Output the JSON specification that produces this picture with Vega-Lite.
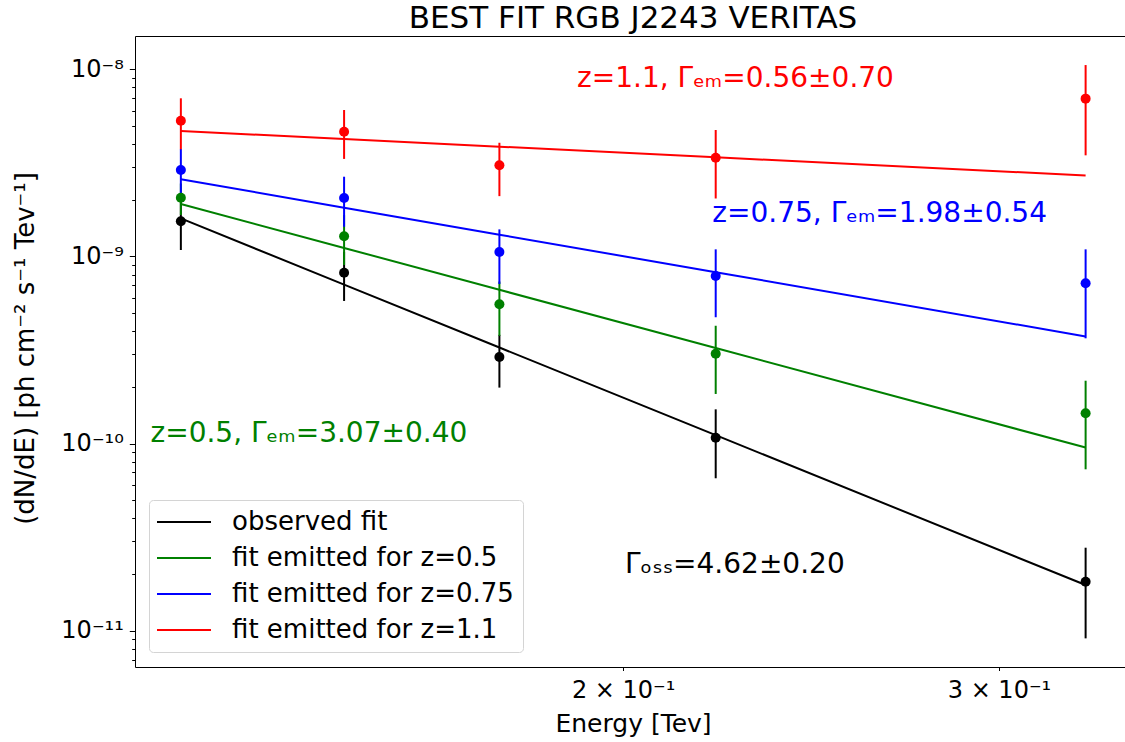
{
  "$schema": "https://vega.github.io/schema/vega-lite/v6.json",
  "autosize": {"type": "none"},
  "padding": {"left": 135, "top": 36, "right": 0, "bottom": 75},
  "width": 990,
  "height": 631,
  "background": "white",
  "title": {
    "text": "BEST FIT RGB J2243 VERITAS",
    "font": "DejaVu Sans",
    "fontSize": 31,
    "fontWeight": "normal",
    "color": "black",
    "baseline": "alphabetic",
    "offset": 8,
    "dx": 3,
    "dy": 31
  },
  "config": {
    "view": {"stroke": null},
    "font": "DejaVu Sans",
    "axis": {
      "grid": false,
      "domainColor": "black",
      "domainWidth": 1,
      "tickColor": "black",
      "tickWidth": 1,
      "labelColor": "black",
      "titleColor": "black",
      "labelFont": "DejaVu Sans",
      "titleFont": "DejaVu Sans",
      "titleFontWeight": "normal",
      "labelOverlap": false,
      "labelFlush": false
    }
  },
  "datasets": {
    "obs": [
      {"series": "observed fit", "energy": 0.1241, "flux": 1.54e-9, "lo": 1.082e-9, "hi": 1.998e-9},
      {"series": "observed fit", "energy": 0.148, "flux": 8.18e-10, "lo": 5.78e-10, "hi": 1.059e-9},
      {"series": "observed fit", "energy": 0.175, "flux": 2.9e-10, "lo": 1.99e-10, "hi": 3.81e-10},
      {"series": "observed fit", "energy": 0.221, "flux": 1.074e-10, "lo": 6.52e-11, "hi": 1.523e-10},
      {"series": "observed fit", "energy": 0.3294, "flux": 1.825e-11, "lo": 9.09e-12, "hi": 2.774e-11},
      {"series": "fit emitted for z=0.5", "energy": 0.1241, "flux": 2.059e-9, "lo": 1.665e-9, "hi": 2.453e-9},
      {"series": "fit emitted for z=0.5", "energy": 0.148, "flux": 1.281e-9, "lo": 9.0e-10, "hi": 1.662e-9},
      {"series": "fit emitted for z=0.5", "energy": 0.175, "flux": 5.55e-10, "lo": 3.76e-10, "hi": 7.34e-10},
      {"series": "fit emitted for z=0.5", "energy": 0.221, "flux": 3.02e-10, "lo": 1.84e-10, "hi": 4.26e-10},
      {"series": "fit emitted for z=0.5", "energy": 0.3294, "flux": 1.45e-10, "lo": 7.28e-11, "hi": 2.166e-10},
      {"series": "fit emitted for z=0.75", "energy": 0.1241, "flux": 2.896e-9, "lo": 2.175e-9, "hi": 3.75e-9},
      {"series": "fit emitted for z=0.75", "energy": 0.148, "flux": 2.051e-9, "lo": 1.441e-9, "hi": 2.667e-9},
      {"series": "fit emitted for z=0.75", "energy": 0.175, "flux": 1.056e-9, "lo": 7.12e-10, "hi": 1.395e-9},
      {"series": "fit emitted for z=0.75", "energy": 0.221, "flux": 7.86e-10, "lo": 4.73e-10, "hi": 1.091e-9},
      {"series": "fit emitted for z=0.75", "energy": 0.3294, "flux": 7.18e-10, "lo": 3.65e-10, "hi": 1.091e-9},
      {"series": "fit emitted for z=1.1", "energy": 0.1241, "flux": 5.31e-9, "lo": 3.74e-9, "hi": 7.0e-9},
      {"series": "fit emitted for z=1.1", "energy": 0.148, "flux": 4.64e-9, "lo": 3.32e-9, "hi": 6.06e-9},
      {"series": "fit emitted for z=1.1", "energy": 0.175, "flux": 3.07e-9, "lo": 2.1e-9, "hi": 4.05e-9},
      {"series": "fit emitted for z=1.1", "energy": 0.221, "flux": 3.37e-9, "lo": 2.04e-9, "hi": 4.74e-9},
      {"series": "fit emitted for z=1.1", "energy": 0.3294, "flux": 6.97e-9, "lo": 3.47e-9, "hi": 1.054e-8}
    ],
    "fit": [
      {"series": "observed fit", "energy": 0.1241, "flux": 1.596e-9},
      {"series": "observed fit", "energy": 0.148, "flux": 7.07e-10},
      {"series": "observed fit", "energy": 0.175, "flux": 3.259e-10},
      {"series": "observed fit", "energy": 0.221, "flux": 1.108e-10},
      {"series": "observed fit", "energy": 0.3294, "flux": 1.753e-11},
      {"series": "fit emitted for z=0.5", "energy": 0.1241, "flux": 1.906e-9},
      {"series": "fit emitted for z=0.5", "energy": 0.148, "flux": 1.11e-9},
      {"series": "fit emitted for z=0.5", "energy": 0.175, "flux": 6.631e-10},
      {"series": "fit emitted for z=0.5", "energy": 0.221, "flux": 3.238e-10},
      {"series": "fit emitted for z=0.5", "energy": 0.3294, "flux": 9.511e-11},
      {"series": "fit emitted for z=0.75", "energy": 0.1241, "flux": 2.584e-9},
      {"series": "fit emitted for z=0.75", "energy": 0.148, "flux": 1.822e-9},
      {"series": "fit emitted for z=0.75", "energy": 0.175, "flux": 1.307e-9},
      {"series": "fit emitted for z=0.75", "energy": 0.221, "flux": 8.232e-10},
      {"series": "fit emitted for z=0.75", "energy": 0.3294, "flux": 3.736e-10},
      {"series": "fit emitted for z=1.1", "energy": 0.1241, "flux": 4.68e-9},
      {"series": "fit emitted for z=1.1", "energy": 0.148, "flux": 4.241e-9},
      {"series": "fit emitted for z=1.1", "energy": 0.175, "flux": 3.86e-9},
      {"series": "fit emitted for z=1.1", "energy": 0.221, "flux": 3.387e-9},
      {"series": "fit emitted for z=1.1", "energy": 0.3294, "flux": 2.708e-9}
    ],
    "notes": [
      {"series": "fit emitted for z=1.1", "energy": 0.1903, "flux": 8.07e-9, "label": "z=1.1, Γₑₘ=0.56±0.70"},
      {"series": "fit emitted for z=0.75", "energy": 0.2202, "flux": 1.533e-9, "label": "z=0.75, Γₑₘ=1.98±0.54"},
      {"series": "fit emitted for z=0.5", "energy": 0.1201, "flux": 1.022e-10, "label": "z=0.5, Γₑₘ=3.07±0.40"},
      {"series": "observed fit", "energy": 0.2004, "flux": 2.024e-11, "label": "Γₒₛₛ=4.62±0.20"}
    ]
  },
  "resolve": {"axis": {"y": "independent"}},
  "layer": [
    {
      "data": {"name": "obs"},
      "mark": {"type": "rule", "strokeWidth": 2},
      "encoding": {
        "x": {
          "field": "energy", "type": "quantitative",
          "scale": {"type": "log", "domain": [0.11811, 0.3437], "nice": false},
          "axis": {
            "orient": "bottom",
            "values": [0.2, 0.3],
            "labelExpr": "datum.value < 0.25 ? '2 × 10⁻¹' : '3 × 10⁻¹'",
            "tickSize": 3.5,
            "labelFontSize": 24,
            "labelPadding": 8,
            "title": "Energy [Tev]",
            "titleFontSize": 25,
            "titleX": 498,
            "titleY": 64,
            "titleAlign": "center",
            "titleBaseline": "alphabetic"
          }
        },
        "y": {
          "field": "lo", "type": "quantitative",
          "scale": {"type": "log", "domain": [6.39e-12, 1.507e-8], "nice": false},
          "axis": {
            "orient": "left",
            "values": [1e-11, 1e-10, 1e-9, 1e-8],
            "labelExpr": "datum.value < 5e-11 ? '10⁻¹¹' : datum.value < 5e-10 ? '10⁻¹⁰' : datum.value < 5e-9 ? '10⁻⁹' : '10⁻⁸'",
            "tickSize": 5.7,
            "labelFontSize": 24,
            "labelPadding": 6,
            "title": "(dN/dE) [ph cm⁻² s⁻¹  Tev⁻¹]",
            "titleFontSize": 26,
            "titleX": -102,
            "titleY": 312,
            "titleAngle": -90,
            "titleAlign": "center",
            "titleBaseline": "alphabetic"
          }
        },
        "y2": {"field": "hi"},
        "color": {
          "field": "series", "type": "nominal",
          "scale": {
            "domain": ["observed fit", "fit emitted for z=0.5", "fit emitted for z=0.75", "fit emitted for z=1.1"],
            "range": ["#000000", "#008000", "#0000ff", "#ff0000"]
          }
        }
      }
    },
    {
      "data": {"name": "obs"},
      "mark": {"type": "point", "shape": "circle", "filled": true, "opacity": 1, "size": 100},
      "encoding": {
        "x": {"field": "energy", "type": "quantitative", "axis": null},
        "y": {
          "field": "flux", "type": "quantitative",
          "axis": {
            "orient": "left",
            "values": [7e-12, 8e-12, 9e-12, 2e-11, 3e-11, 4e-11, 5e-11, 6e-11, 7e-11, 8e-11, 9e-11, 2e-10, 3e-10, 4e-10, 5e-10, 6e-10, 7e-10, 8e-10, 9e-10, 2e-9, 3e-9, 4e-9, 5e-9, 6e-9, 7e-9, 8e-9, 9e-9],
            "labels": false,
            "domain": false,
            "tickSize": 3.3,
            "title": null
          }
        },
        "color": {"field": "series", "type": "nominal"}
      }
    },
    {
      "data": {"name": "fit"},
      "mark": {"type": "line", "strokeWidth": 2},
      "encoding": {
        "x": {
          "field": "energy", "type": "quantitative",
          "axis": {"orient": "top", "labels": false, "ticks": false, "title": null, "domain": true, "values": []}
        },
        "y": {"field": "flux", "type": "quantitative", "axis": null},
        "color": {
          "field": "series", "type": "nominal",
          "legend": {
            "title": null,
            "orient": "none",
            "legendX": 14,
            "legendY": 464,
            "symbolType": "M-2.7,0H2.7",
            "symbolSize": 400,
            "symbolStrokeWidth": 2,
            "labelFont": "DejaVu Sans",
            "labelFontSize": 26,
            "labelColor": "black",
            "labelLimit": 0,
            "rowPadding": 10,
            "padding": 9,
            "symbolOffset": 13,
            "labelOffset": 35,
            "strokeColor": "#d4d4d4",
            "fillColor": "rgba(255,255,255,0.8)",
            "cornerRadius": 4
          }
        }
      }
    },
    {
      "data": {"name": "notes"},
      "mark": {"type": "text", "align": "left", "baseline": "alphabetic", "fontSize": 28, "font": "DejaVu Sans"},
      "encoding": {
        "x": {"field": "energy", "type": "quantitative", "axis": null},
        "y": {"field": "flux", "type": "quantitative", "axis": null},
        "text": {"field": "label"},
        "color": {"field": "series", "type": "nominal"}
      }
    }
  ]
}
